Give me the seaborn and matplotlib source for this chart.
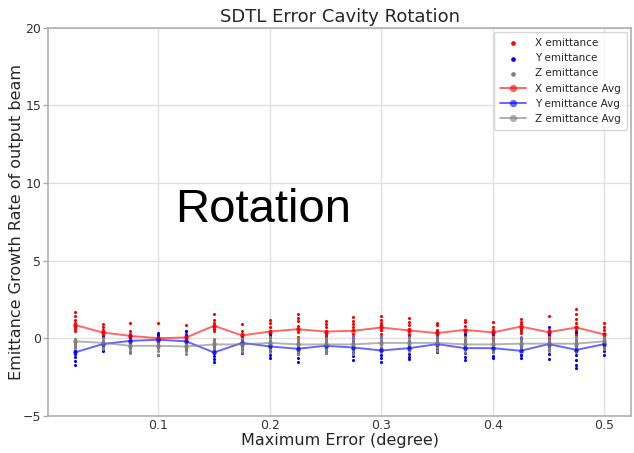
import numpy as np
import pandas as pd
import matplotlib
matplotlib.use("Agg")
import matplotlib.pyplot as plt
import seaborn as sns

max_error = [0.025, 0.05, 0.075, 0.1, 0.125, 0.15, 0.175, 0.2, 0.225, 0.25,
             0.275, 0.3, 0.325, 0.35, 0.375, 0.4, 0.425, 0.45, 0.475, 0.5]

x_emit = [
    [1.70, 1.45, 1.20, 0.95, 0.80, 0.60, 0.45, 0.75],
    [0.90, 0.70, 0.55, 0.40, 0.30, 0.20, 0.05, 0.25],
    [0.95, 0.45, 0.30, 0.15, 0.05, 0.00, -0.10, 0.10],
    [0.95, 0.30, 0.10, 0.00, -0.10, -0.20, -0.30, -0.05],
    [0.85, 0.45, 0.25, 0.05, -0.10, -0.20, -0.30, 0.00],
    [1.55, 1.20, 1.00, 0.85, 0.75, 0.60, 0.45, 0.60],
    [0.90, 0.45, 0.25, 0.15, 0.05, 0.00, -0.10, 0.10],
    [1.15, 0.95, 0.70, 0.45, 0.35, 0.20, -0.20, 0.25],
    [1.55, 1.30, 1.10, 0.80, 0.60, 0.40, 0.10, -0.20],
    [1.10, 0.90, 0.70, 0.45, 0.35, 0.20, 0.05, 0.20],
    [1.35, 1.10, 0.90, 0.70, 0.50, 0.25, 0.05, 0.00],
    [1.40, 1.20, 1.00, 0.85, 0.70, 0.50, 0.30, 0.55],
    [1.30, 1.05, 0.85, 0.60, 0.45, 0.30, 0.10, -0.15],
    [1.00, 0.85, 0.55, 0.35, 0.20, 0.10, 0.00, -0.40],
    [1.20, 1.05, 0.80, 0.55, 0.45, 0.30, 0.15, -0.15],
    [1.05, 0.75, 0.55, 0.40, 0.25, 0.05, -0.20, 0.00],
    [1.25, 1.05, 0.90, 0.75, 0.60, 0.45, 0.35, 0.65],
    [1.40, 0.55, 0.40, 0.30, 0.15, 0.00, -0.30, 0.30],
    [1.90, 1.55, 1.25, 0.95, 0.75, 0.55, 0.35, 0.20],
    [0.95, 0.70, 0.50, 0.30, 0.20, 0.10, -0.10, 0.05],
]

y_emit = [
    [-0.30, -0.55, -0.80, -1.00, -1.20, -1.45, -1.70, -0.40],
    [0.05, -0.15, -0.35, -0.55, -0.75, -0.85, -0.40, -0.25],
    [0.20, 0.05, -0.10, -0.25, -0.45, -0.60, -0.90, -0.20],
    [0.35, 0.20, 0.05, -0.10, -0.30, -0.50, -1.10, -0.10],
    [0.45, 0.20, 0.00, -0.20, -0.40, -0.60, -0.70, -0.20],
    [-0.20, -0.50, -0.75, -0.95, -1.15, -1.35, -1.55, -0.90],
    [0.10, -0.10, -0.30, -0.50, -0.70, -0.95, -0.20, -0.35],
    [0.30, 0.05, -0.30, -0.55, -0.80, -1.05, -1.25, -0.55],
    [0.00, -0.30, -0.55, -0.80, -1.00, -1.25, -1.50, -0.60],
    [0.00, -0.20, -0.40, -0.60, -0.80, -0.95, -0.55, -0.40],
    [0.10, -0.20, -0.45, -0.65, -0.90, -1.15, -1.40, -0.30],
    [0.10, -0.30, -0.60, -0.85, -1.10, -1.30, -1.50, -0.75],
    [0.15, -0.20, -0.50, -0.75, -1.00, -1.20, -1.35, -0.60],
    [0.40, 0.10, -0.20, -0.45, -0.70, -0.90, -0.50, -0.35],
    [0.30, -0.10, -0.45, -0.70, -0.95, -1.20, -1.40, -0.60],
    [0.30, -0.10, -0.40, -0.65, -0.90, -1.15, -1.30, -0.60],
    [0.00, -0.30, -0.55, -0.80, -1.05, -1.30, -1.10, -0.50],
    [0.70, 0.30, -0.10, -0.40, -0.70, -1.00, -1.35, -0.50],
    [0.40, -0.10, -0.50, -0.80, -1.10, -1.40, -1.70, -1.90],
    [0.30, 0.05, -0.20, -0.40, -0.60, -0.85, -1.05, -0.50],
]

z_emit = [
    [-0.05, -0.15, -0.25, -0.35, -0.45, -0.55, -0.65, -0.30],
    [0.00, -0.10, -0.20, -0.30, -0.45, -0.55, -0.70, -0.25],
    [-0.10, -0.25, -0.40, -0.50, -0.65, -0.80, -0.95, -0.50],
    [-0.05, -0.20, -0.35, -0.50, -0.65, -0.85, -1.05, -0.30],
    [-0.10, -0.25, -0.40, -0.55, -0.70, -0.85, -1.00, -0.45],
    [-0.05, -0.20, -0.35, -0.45, -0.60, -0.75, -0.90, -0.30],
    [0.00, -0.15, -0.30, -0.45, -0.60, -0.75, -0.90, -0.40],
    [0.10, -0.10, -0.25, -0.40, -0.55, -0.70, -0.90, -0.20],
    [0.00, -0.15, -0.30, -0.45, -0.60, -0.80, -1.00, -0.40],
    [0.00, -0.15, -0.30, -0.45, -0.60, -0.80, -0.95, -0.35],
    [0.05, -0.10, -0.25, -0.45, -0.60, -0.80, -1.00, -0.40],
    [0.05, -0.10, -0.25, -0.40, -0.55, -0.70, -0.90, -0.30],
    [0.05, -0.10, -0.25, -0.40, -0.55, -0.70, -0.85, -0.30],
    [0.10, -0.05, -0.20, -0.35, -0.50, -0.65, -0.80, -0.30],
    [0.05, -0.10, -0.25, -0.40, -0.55, -0.70, -0.90, -0.35],
    [0.05, -0.10, -0.25, -0.40, -0.55, -0.70, -0.90, -0.35],
    [0.05, -0.10, -0.25, -0.40, -0.55, -0.70, -0.85, -0.30],
    [0.05, -0.10, -0.25, -0.40, -0.55, -0.70, -0.85, -0.30],
    [0.05, -0.10, -0.25, -0.40, -0.55, -0.70, -0.90, -0.30],
    [0.15, 0.00, -0.15, -0.25, -0.40, -0.55, -0.70, -0.20],
]

x_avg = [0.86, 0.37, 0.15, 0.00, 0.05, 0.80, 0.18, 0.43, 0.58, 0.43,
         0.48, 0.69, 0.50, 0.33, 0.54, 0.37, 0.75, 0.39, 0.69, 0.24]
y_avg = [-0.92, -0.38, -0.17, -0.10, -0.20, -0.92, -0.30, -0.53, -0.68, -0.49,
         -0.60, -0.79, -0.64, -0.38, -0.64, -0.64, -0.81, -0.38, -0.75, -0.38]
z_avg = [-0.20, -0.30, -0.49, -0.49, -0.53, -0.40, -0.40, -0.30, -0.40, -0.40,
         -0.40, -0.30, -0.30, -0.30, -0.40, -0.40, -0.35, -0.35, -0.35, -0.20]

sns.set_theme(style="whitegrid")
plt.rcParams['font.family'] = ['DejaVu Sans']

fig = plt.figure(figsize=(6.34, 4.53), dpi=100)
ax = fig.add_axes([0.076, 0.082, 0.919, 0.857])


def long_df(vals):
    rows = []
    for xv, pts in zip(max_error, vals):
        for p in pts:
            rows.append((xv, p))
    return pd.DataFrame(rows, columns=["x", "y"])


series = [("X", x_emit, x_avg, "#ff0000"),
          ("Y", y_emit, y_avg, "#0000ff"),
          ("Z", z_emit, z_avg, "#808080")]

for name, pts, _, col in series:
    d = long_df(pts)
    sns.scatterplot(data=d, x="x", y="y", ax=ax, color=col, s=5, marker="o",
                    linewidth=0, label=f"{name} emittance", zorder=3)

for name, _, avg, col in series:
    d = pd.DataFrame({"x": max_error, "y": avg})
    sns.lineplot(data=d, x="x", y="y", ax=ax, color=col, marker="o",
                 markersize=3.5, markeredgewidth=0, linewidth=1.4, alpha=0.6,
                 label=f"{name} emittance Avg", estimator=None, zorder=4)

ax.set_ylim(-5, 20)
ax.set_yticks([-5, 0, 5, 10, 15, 20])
ax.set_xticks([0.1, 0.2, 0.3, 0.4, 0.5])
ax.set_xticklabels(["0.1", "0.2", "0.3", "0.4", "0.5"])
ax.tick_params(axis="both", labelsize=9, colors="#333333")
ax.tick_params(axis="x", length=0, pad=2)
ax.tick_params(axis="y", left=True, length=3.5, width=1, color="#aaaaaa", pad=1.5)
ax.set_xlabel("Maximum Error (degree)", fontsize=11.5, labelpad=1)
ax.set_ylabel("Emittance Growth Rate of output beam", fontsize=11.5)
ax.yaxis.set_label_coords(-0.041, 0.5)
ax.set_title("SDTL Error Cavity Rotation", fontsize=13, pad=4)
for s in ax.spines.values():
    s.set_color("#b0b0b0")
    s.set_linewidth(1.2)
ax.grid(True, color="#e0e0e0", linewidth=1)

ax.text(0.218, 0.531, "Rotation", transform=ax.transAxes, ha="left", va="center",
        fontsize=34, family="Liberation Sans", color="black")

leg = ax.legend(loc="upper right", fontsize=7.5, frameon=True, markerscale=1.5,
                borderpad=0.6, labelspacing=0.5, handlelength=2.5,
                borderaxespad=0.4)
leg.get_frame().set_edgecolor("#cccccc")

fig.savefig("out.png", dpi=100)
